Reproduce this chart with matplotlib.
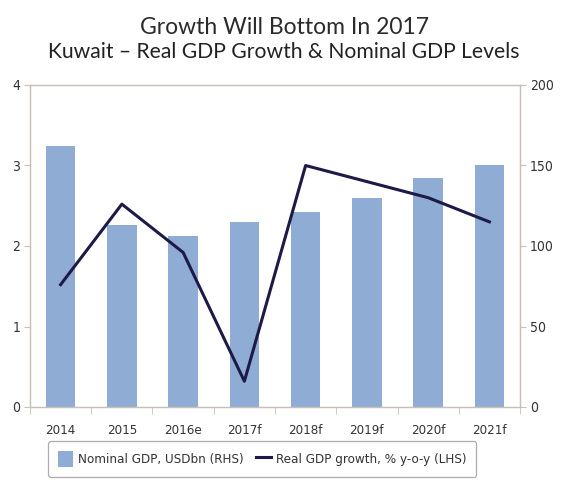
import numpy as np
import matplotlib.pyplot as plt
from matplotlib.patches import Patch
from matplotlib.lines import Line2D

# Data
years = ['2014', '2015', '2016e', '2017f', '2018f', '2019f', '2020f', '2021f']
nominal_gdp = [162, 113, 106, 115, 121, 130, 142, 150]      # USDbn, right axis
real_growth = [1.52, 2.52, 1.92, 0.32, 3.0, 2.8, 2.6, 2.3]  # % y-o-y, left axis

bar_color = '#8FADD4'
line_color = '#1E1A48'
spine_color = '#C8C0B8'
text_color = '#333333'

plt.rcParams['font.family'] = 'DejaVu Sans'
plt.rcParams['font.stretch'] = 'condensed'

fig = plt.figure(figsize=(5.68, 5.0), dpi=100)
ax = fig.add_axes([0.0528, 0.186, 0.8627, 0.644])
ax2 = ax.twinx()

x = np.arange(len(years))

# bars on right axis, line on left axis (line drawn above bars)
ax2.bar(x, nominal_gdp, width=0.48, color=bar_color, zorder=1)
ax2.set_ylim(0, 200)
ax2.set_yticks([0, 50, 100, 150, 200])

ax.set_zorder(ax2.get_zorder() + 1)
ax.patch.set_visible(False)
ax.plot(x, real_growth, color=line_color, lw=2.2, zorder=3)
ax.set_ylim(0, 4)
ax.set_yticks([0, 1, 2, 3, 4])
ax.set_xlim(-0.5, len(years) - 0.5)

ax.set_xticks(x)
ax.set_xticklabels(years)
ax.set_xticks(np.arange(-0.5, len(years)), minor=True)
ax.tick_params(axis='x', which='major', length=0, pad=12, labelsize=9.5, labelcolor=text_color)
ax.tick_params(axis='x', which='minor', length=5, color=spine_color)
ax.tick_params(axis='y', length=4, color=spine_color, labelsize=10, labelcolor=text_color, pad=3)
ax2.tick_params(axis='y', length=4, color=spine_color, labelsize=10, labelcolor=text_color, pad=3)

for a in (ax, ax2):
    for s in a.spines.values():
        s.set_color(spine_color)
        s.set_linewidth(0.9)

fig.text(0.5, 0.946, 'Growth Will Bottom In 2017', ha='center', va='center',
         fontsize=16.5, family='Lato', stretch='normal', color='#2a2a2a')
fig.text(0.5, 0.896, 'Kuwait \u2013 Real GDP Growth & Nominal GDP Levels', ha='center', va='center',
         fontsize=15.2, family='Lato', stretch='normal', color='#222222')

handles = [Patch(facecolor=bar_color, edgecolor='none'),
           Line2D([0], [0], color=line_color, lw=2.2)]
labels = ['Nominal GDP, USDbn (RHS)', 'Real GDP growth, % y-o-y (LHS)']
leg = fig.legend(handles, labels, loc='center', bbox_to_anchor=(0.462, 0.082), ncol=2,
                 fontsize=9.6, frameon=True, fancybox=True, edgecolor='#999999',
                 handlelength=1.1, handleheight=1.4, handletextpad=0.4, columnspacing=0.9,
                 borderpad=0.75, borderaxespad=0, labelcolor=text_color)
leg.get_frame().set_linewidth(0.9)

fig.savefig('out.png', dpi=100)
